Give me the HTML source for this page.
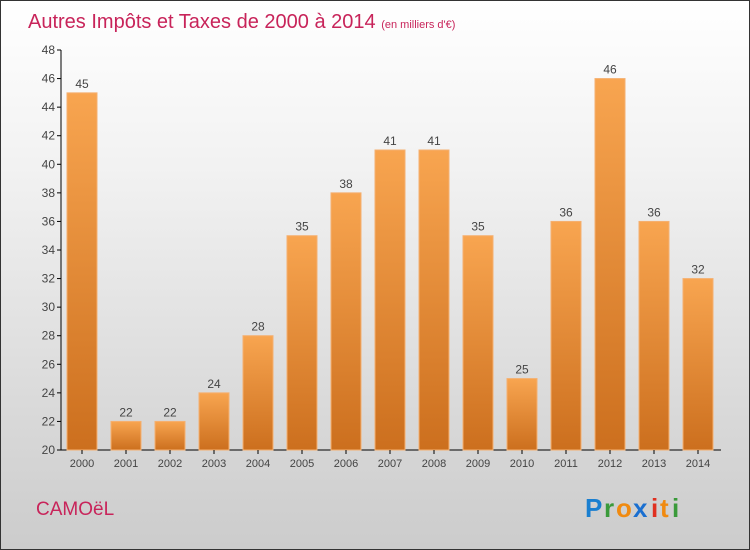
<!DOCTYPE html>
<html><head><meta charset="utf-8"><style>
body{margin:0}
#c{position:relative;width:748px;height:548px;border:1px solid #333;background:linear-gradient(#ffffff 0%,#f2f2f2 30%,#d9d9d9 75%,#cccccc 100%);font-family:"Liberation Sans",sans-serif;overflow:hidden}
</style></head><body>
<div id="c">
<svg width="748" height="548" id="svg">
<defs><linearGradient id="bg" x1="0" y1="0" x2="0" y2="1"><stop offset="0" stop-color="#f8a550"/><stop offset="1" stop-color="#cc6f1e"/></linearGradient></defs>
<text x="27" y="27" font-size="20" fill="#c8245a">Autres Impôts et Taxes de 2000 à 2014 <tspan font-size="11">(en milliers d'€)</tspan></text>
<text x="35" y="514" font-size="19" fill="#c8245a">CAMOëL</text>
<g font-size="26" font-weight="bold">
<text x="584" y="516" fill="#1a7fd0">P</text><text x="603" y="516" fill="#3a9a3a">r</text><text x="615" y="516" fill="#f08a10">o</text><text x="632" y="516" fill="#1a6fd0">x</text><text x="650" y="516" fill="#e03020">i</text><text x="659" y="516" fill="#f08a10">t</text><text x="671" y="516" fill="#3a9a3a">i</text>
</g>
<g id="g"></g>
</svg></div>
<script>
const years=["2000","2001","2002","2003","2004","2005","2006","2007","2008","2009","2010","2011","2012","2013","2014"];
const values=[45,22,22,24,28,35,38,41,41,35,25,36,46,36,32];
const yTicks=[20,22,24,26,28,30,32,34,36,38,40,42,44,46,48];
const NS="http://www.w3.org/2000/svg",g=document.getElementById('g');
const y=v=>449-(v-20)*400/28, x=i=>81+i*44;
function mk(t,a){const e=document.createElementNS(NS,t);for(const k in a)e.setAttribute(k,a[k]);g.appendChild(e);return e;}
let ax=mk('line',{x1:60,y1:49,x2:60,y2:449,stroke:'#000'});


let xa=mk('line',{x1:60,y1:449,x2:720,y2:449,stroke:'#000'});


yTicks.forEach(t=>{
 mk('line',{x1:56,x2:60,y1:y(t),y2:y(t),stroke:'#000'});
 const l=mk('text',{x:54,y:y(t)+4,'font-size':12,'text-anchor':'end',fill:'#444'});l.textContent=t;
 
 
});
years.forEach((yr,i)=>{
 const r=mk('rect',{x:x(i)-15,y:y(values[i]),width:30,height:449-y(values[i]),fill:'url(#bg)',stroke:'#f5b070','stroke-width':1});
 
 
 const v=mk('text',{x:x(i),y:y(values[i])-5,'font-size':12,'text-anchor':'middle',fill:'#444'});v.textContent=values[i];
 
 
 mk('line',{x1:x(i),x2:x(i),y1:449,y2:453,stroke:'#000'});
 const l=mk('text',{x:x(i),y:466,'font-size':11,'text-anchor':'middle',fill:'#444'});l.textContent=yr;
 
 
});
</script></body></html>
